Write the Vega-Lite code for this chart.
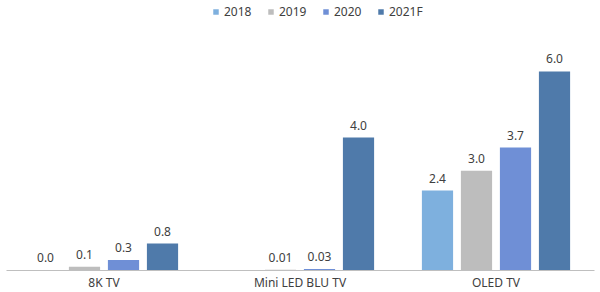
{
  "$schema": "https://vega.github.io/schema/vega-lite/v6.json",
  "autosize": {"type": "fit", "contains": "padding"},
  "width": 600,
  "height": 292,
  "padding": {"left": 6, "right": 6, "top": 30, "bottom": 4},
  "background": "white",
  "config": {
    "view": {"stroke": null},
    "font": "Noto Sans",
    "text": {"font": "Noto Sans"}
  },
  "data": {
    "values": [
      {"cat": "8K TV", "year": "2018", "value": 0.0, "label": "0.0"},
      {"cat": "8K TV", "year": "2019", "value": 0.1, "label": "0.1"},
      {"cat": "8K TV", "year": "2020", "value": 0.3, "label": "0.3"},
      {"cat": "8K TV", "year": "2021F", "value": 0.8, "label": "0.8"},
      {"cat": "Mini LED BLU TV", "year": "2018", "value": null, "label": null},
      {"cat": "Mini LED BLU TV", "year": "2019", "value": 0.01, "label": "0.01"},
      {"cat": "Mini LED BLU TV", "year": "2020", "value": 0.03, "label": "0.03"},
      {"cat": "Mini LED BLU TV", "year": "2021F", "value": 4.0, "label": "4.0"},
      {"cat": "OLED TV", "year": "2018", "value": 2.4, "label": "2.4"},
      {"cat": "OLED TV", "year": "2019", "value": 3.0, "label": "3.0"},
      {"cat": "OLED TV", "year": "2020", "value": 3.7, "label": "3.7"},
      {"cat": "OLED TV", "year": "2021F", "value": 6.0, "label": "6.0"}
    ]
  },
  "encoding": {
    "x": {
      "field": "cat", "type": "nominal", "sort": null,
      "scale": {"paddingInner": 0.204, "paddingOuter": 0.102},
      "axis": {
        "title": null, "labelAngle": 0, "ticks": false, "domainColor": "#bfbfbf",
        "labelFontSize": 12, "labelColor": "#404040", "labelPadding": 7, "labelFont": "Noto Sans"
      }
    },
    "xOffset": {
      "field": "year", "type": "nominal",
      "scale": {"paddingInner": 0.2, "paddingOuter": 0.1}
    },
    "y": {
      "field": "value", "type": "quantitative",
      "scale": {"domain": [0, 7.25], "nice": false},
      "axis": null
    }
  },
  "layer": [
    {
      "mark": {"type": "bar"},
      "encoding": {
        "color": {
          "field": "year", "type": "nominal",
          "scale": {"domain": ["2018", "2019", "2020", "2021F"], "range": ["#7eb0de", "#bdbdbd", "#6f8fd6", "#4f7aaa"]},
          "legend": {
            "title": null, "orient": "none", "direction": "horizontal",
            "legendX": 204, "legendY": -24, "symbolType": "square", "symbolSize": 30,
            "labelFontSize": 12, "labelColor": "#404040", "columnPadding": 13, "symbolOffset": 0, "labelOffset": 2
          }
        }
      }
    },
    {
      "mark": {"type": "text", "baseline": "bottom", "dy": -5, "fontSize": 12, "color": "#404040"},
      "encoding": {"text": {"field": "label"}}
    }
  ]
}
